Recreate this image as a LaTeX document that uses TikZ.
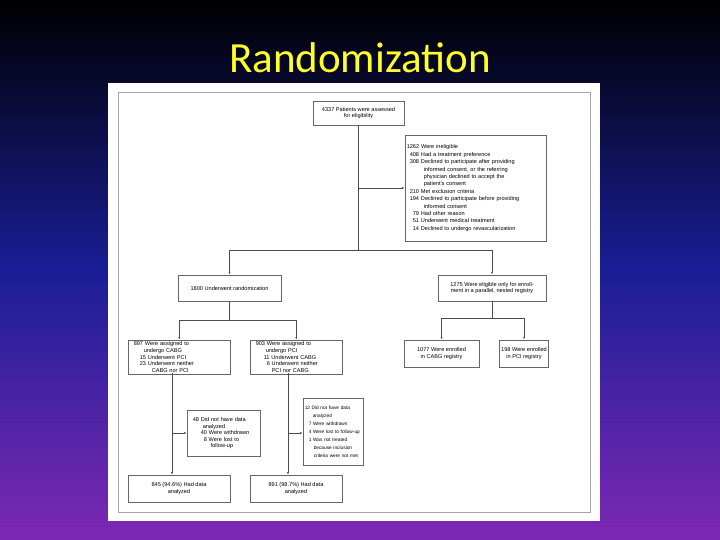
\documentclass[tikz,border=0pt]{standalone}
\usepackage{fontspec}
\setmainfont{Liberation Sans}
\newfontfamily\titlefont{Carlito}
\usetikzlibrary{arrows.meta}
\definecolor{bgtop}{RGB}{0,0,0}
\definecolor{bgmid}{RGB}{25,30,150}
\definecolor{bgbot}{RGB}{125,40,180}
\definecolor{titlecol}{RGB}{255,255,40}
\tikzset{
  box/.style={draw=black!60, fill=white, line width=0.5pt, font=\fontsize{5.6}{6.6}\selectfont,
    inner sep=1.5pt, align=center},
  lbox/.style={box, align=left, anchor=north west, text width=#1},
  flow/.style={draw=black!70, line width=0.6pt},
  arr/.style={flow, -{Latex[length=3pt,width=2pt]}}
}
\begin{document}
\begin{tikzpicture}[x=1pt,y=-1pt]
\useasboundingbox (0,0) rectangle (720,540);
\shade[top color=bgtop, bottom color=bgbot, middle color=bgmid] (0,0) rectangle (720,540);
\node[font=\titlefont\fontsize{43}{46}\selectfont, text=titlecol] (title) at (360,58) {Randomization};
\fill[white] (108,83) rectangle (600,521);
\draw[black!35, line width=0.6pt] (118,92) rectangle (590,512);

\node[box, minimum width=91pt, minimum height=24pt] (screen) at (358.5,113) {4337 Patients were assessed\\for eligibility};
\node[lbox=138pt, minimum height=106pt, font=\fontsize{5.6}{7.4}\selectfont] (inelig) at (405,135) {1262 Were ineligible\\
\hspace{3pt}408 Had a treatment preference\\
\hspace{3pt}308 Declined to participate after providing\\\hspace{17pt}informed consent, or the referring\\\hspace{17pt}physician declined to accept the\\\hspace{17pt}patient's consent\\
\hspace{3pt}210 Met exclusion criteria\\
\hspace{3pt}194 Declined to participate before providing\\\hspace{17pt}informed consent\\
\hspace{6pt}79 Had other reason\\
\hspace{6pt}51 Underwent medical treatment\\
\hspace{6pt}14 Declined to undergo revascularization};
\node[box, minimum width=103pt, minimum height=26pt] (rand) at (229.5,288) {1800 Underwent randomization};
\node[box, minimum width=108pt, minimum height=26pt] (reg) at (492,288) {1275 Were eligible only for enroll-\\ment in a parallel, nested registry};
\node[lbox=99pt, minimum height=33pt] (cabg) at (128,340) {\hspace{4pt}897 Were assigned to\\\hspace{14pt}undergo CABG\\\hspace{10pt}15 Underwent PCI\\\hspace{10pt}23 Underwent neither\\\hspace{22pt}CABG nor PCI};
\node[lbox=89pt, minimum height=33pt] (pci) at (250,340) {\hspace{4pt}903 Were assigned to\\\hspace{14pt}undergo PCI\\\hspace{12pt}11 Underwent CABG\\\hspace{15pt}6 Underwent neither\\\hspace{20pt}PCI nor CABG};
\node[box, minimum width=75pt, minimum height=27pt] (creg) at (441.5,353.5) {1077 Were enrolled\\in CABG registry};
\node[box, minimum width=44pt, minimum height=27pt] (preg) at (524,353.5) {198 Were enrolled\\in PCI registry};
\node[lbox=70pt, minimum height=46pt] (lost1) at (187,410) {\hspace{4pt}48 Did not have data\\\hspace{14pt}analyzed\\\hspace{12pt}40 Were withdrawn\\\hspace{15pt}8 Were lost to\\\hspace{22pt}follow-up};
\node[lbox=57pt, minimum height=67pt, font=\fontsize{4.8}{8}\selectfont] (lost2) at (303,398) {12 Did not have data\\\hspace{8pt}analyzed\\\hspace{4pt}7 Were withdrawn\\\hspace{4pt}4 Were lost to follow-up\\\hspace{4pt}1 Was not treated\\\hspace{9pt}because inclusion\\\hspace{9pt}criteria were not met};
\node[box, minimum width=102pt, minimum height=27pt] (fin1) at (179,488.5) {845 (94.6\%) Had data\\analyzed};
\node[box, minimum width=92pt, minimum height=27pt] (fin2) at (296,488.5) {891 (98.7\%) Had data\\analyzed};

\coordinate (split) at (358.5,250);
\draw[flow] (screen) -- (split);
\draw[arr] (358.5,188) -- (inelig.west |- 0,188);
\draw[arr] (split) -| (rand);
\draw[arr] (split) -| (reg);
\draw[flow] (rand) -- (229.5,320);
\draw[arr] (229.5,320) -| (cabg);
\draw[arr] (229.5,320) -| (pci);
\draw[flow] (reg) -- (492,318);
\draw[arr] (492,318) -| (creg);
\draw[arr] (492,318) -| (preg);
\draw[arr] (172,373) -- (172,475);
\draw[arr] (172,433) -- (lost1.west |- 0,433);
\draw[arr] (288,373) -- (288,475);
\draw[arr] (288,433) -- (lost2.west |- 0,433);
\end{tikzpicture}
\end{document}
